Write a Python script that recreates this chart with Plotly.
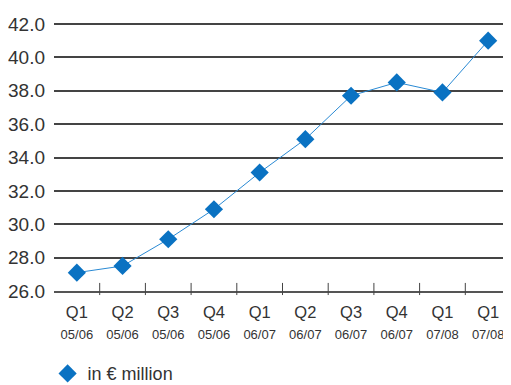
import plotly.graph_objects as go

quarters = ["Q1", "Q2", "Q3", "Q4", "Q1", "Q2", "Q3", "Q4", "Q1", "Q1"]
years = ["05/06", "05/06", "05/06", "05/06", "06/07", "06/07", "06/07", "06/07", "07/08", "07/08"]
values = [27.1, 27.5, 29.1, 30.9, 33.1, 35.1, 37.7, 38.5, 37.9, 41.0]
y_ticks = [26, 28, 30, 32, 34, 36, 38, 40, 42]
series_name = "in € million"

cats = list(range(len(values)))
ticktext = [f"{q}<br><span style='font-size:13px'>{y}</span>" for q, y in zip(quarters, years)]

fig = go.Figure()
fig.add_trace(go.Scatter(
    x=cats, y=values, mode="lines+markers",
    line=dict(color="#2a8ad4", width=1),
    marker=dict(symbol="diamond", size=14, color="#0a72c2"),
    showlegend=False,
))
fig.add_trace(go.Scatter(
    x=[None], y=[None], mode="markers", name=series_name,
    marker=dict(symbol="diamond", size=14, color="#0a72c2"),
))

# category-boundary tick marks on the x axis
for c in cats[:-1]:
    fig.add_shape(type="line", xref="x", yref="y domain",
                  x0=c + 0.5, x1=c + 0.5, y0=-0.015, y1=0.03,
                  line=dict(color="#444444", width=1))

# page body has an 8px default margin, so the figure is 8px smaller
fig.update_layout(
    width=503, height=377,
    margin=dict(l=46, r=0, t=14, b=94),
    paper_bgcolor="white", plot_bgcolor="white",
    font=dict(family="Liberation Sans, Arial, sans-serif", size=18, color="#333333"),
    xaxis=dict(
        range=[-0.5, 9.5], automargin=False,
        tickmode="array", tickvals=cats, ticktext=ticktext,
        showgrid=False, zeroline=False,
        showline=True, linecolor="#555555", linewidth=1.5,
        ticks="", ticklabelstandoff=5,
        tickfont=dict(size=16.5, color="#333333"),
    ),
    yaxis=dict(
        range=[26, 42.12], automargin=False, tickmode="array", tickvals=y_ticks,
        ticktext=[f"{v:.1f}" for v in y_ticks],
        showgrid=True, gridcolor="#444444", gridwidth=1.5,
        zeroline=False, ticks="", ticklabelstandoff=8,
        tickfont=dict(size=19, color="#333333"),
    ),
    legend=dict(
        x=-0.014, xanchor="left", yref="container", y=0.03, yanchor="middle",
        font=dict(size=18, color="#333333"), bgcolor="rgba(0,0,0,0)",
    ),
)

fig.write_html("out.html")
